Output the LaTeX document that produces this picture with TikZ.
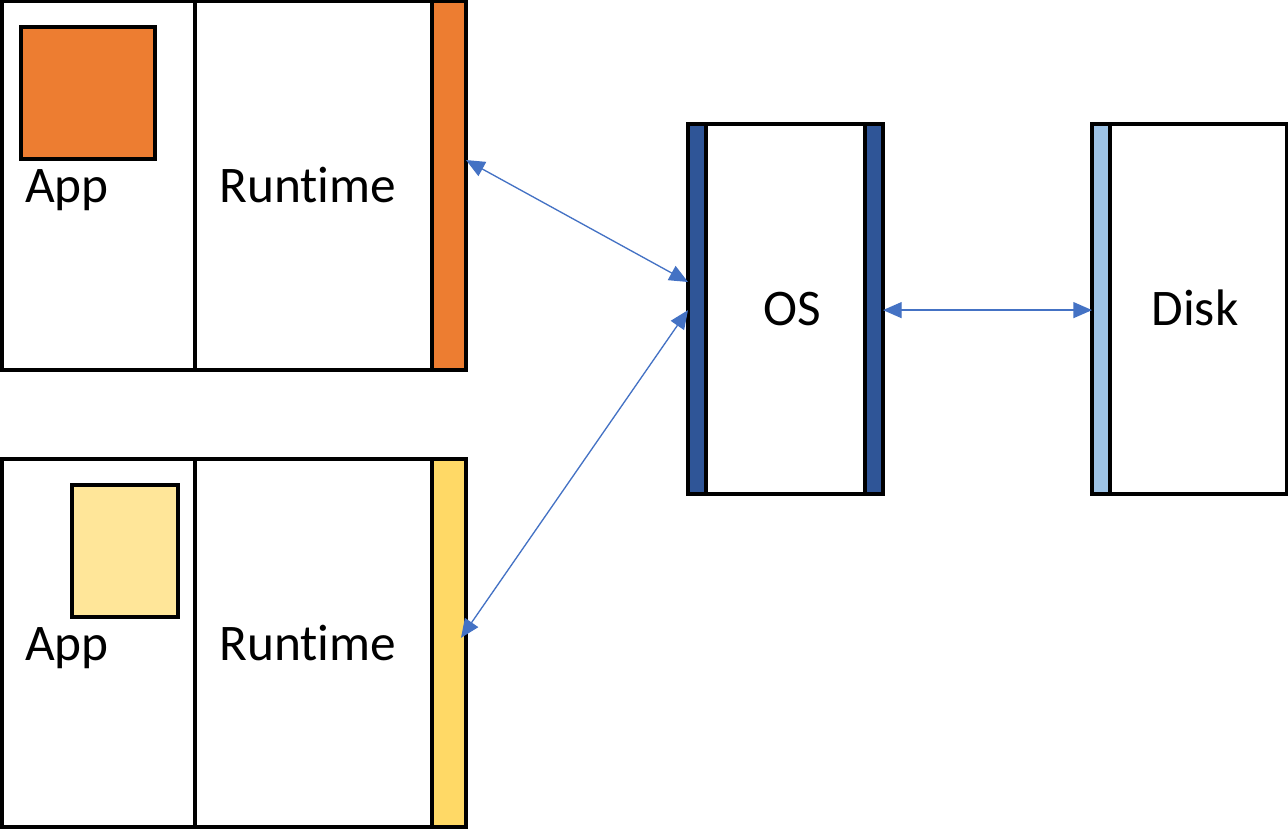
\documentclass[tikz,border=0pt]{standalone}
\usepackage{fontspec}
\setmainfont[Ligatures=NoCommon]{Carlito}
\usetikzlibrary{arrows.meta,calc}

\definecolor{apporange}{HTML}{ED7D31}
\definecolor{appyellow}{HTML}{FFE699}
\definecolor{baryellow}{HTML}{FFD966}
\definecolor{osblue}{HTML}{2F5597}
\definecolor{diskblue}{HTML}{9DC3E6}
\definecolor{linkblue}{HTML}{4472C4}

\tikzset{
  panel/.style={draw=black, line width=2.4pt, rectangle, inner sep=0pt, outer sep=0pt},
  sz/.style 2 args={minimum width=#1*0.75pt, minimum height=#2*0.75pt},
  label/.style={font=\fontsize{38.5pt}{40pt}\selectfont, inner sep=0pt},
  link/.style={draw=linkblue, line width=1pt,
    {Triangle[length=14pt,width=12pt]}-{Triangle[length=14pt,width=12pt]}}
}

\begin{document}
\begin{tikzpicture}[x=0.75pt, y=-0.75pt]
  \useasboundingbox (0,0) rectangle (1288,828);

  % first process: app area, runtime, interface bar
  \node[panel, sz={193}{369}] (appA) at (98.5,185.5) {};
  \node[panel, sz={237}{369}] (rtA) at (313.5,185.5) {};
  \node[panel, fill=apporange, sz={34}{369}] (barA) at (449,185.5) {};
  \node[panel, fill=apporange, sz={134}{132}] (sqA) at (88,93) {};
  \node[label, anchor=base west] (appTxtA) at (25,202) {App};
  \node[label, anchor=base west] (rtTxtA) at (219,202) {Runtime};

  % second process
  \node[panel, sz={193}{368}] (appB) at (98.5,643) {};
  \node[panel, sz={237}{368}] (rtB) at (313.5,643) {};
  \node[panel, fill=baryellow, sz={34}{368}] (barB) at (449,643) {};
  \node[panel, fill=appyellow, sz={106}{132}] (sqB) at (125,551) {};
  \node[label, anchor=base west] (appTxtB) at (25,660) {App};
  \node[label, anchor=base west] (rtTxtB) at (219,660) {Runtime};

  % operating system
  \node[panel, sz={159}{370}] (os) at (785.5,309) {};
  \node[panel, fill=osblue, sz={18}{370}] (osL) at (697,309) {};
  \node[panel, fill=osblue, sz={18}{370}] (osR) at (874,309) {};
  \node[label, anchor=base] (osTxt) at (792,325) {OS};

  % disk
  \node[panel, sz={177}{370}] (disk) at (1198.5,309) {};
  \node[panel, fill=diskblue, sz={18}{370}] (diskL) at (1101,309) {};
  \node[label, anchor=base] (diskTxt) at (1195,325) {Disk};

  % connections
  \draw[link] ($(barA.north east)!0.431!(barA.south east)$)
           -- ($(osL.north west)!0.427!(osL.south west)$);
  \draw[link] ([xshift=-3.75pt]$(barB.north east)!0.486!(barB.south east)$)
           -- ($(osL.north west)!0.503!(osL.south west)$);
  \draw[link] ($(osR.north east)!0.503!(osR.south east)$)
           -- ($(diskL.north west)!0.503!(diskL.south west)$);
\end{tikzpicture}
\end{document}
